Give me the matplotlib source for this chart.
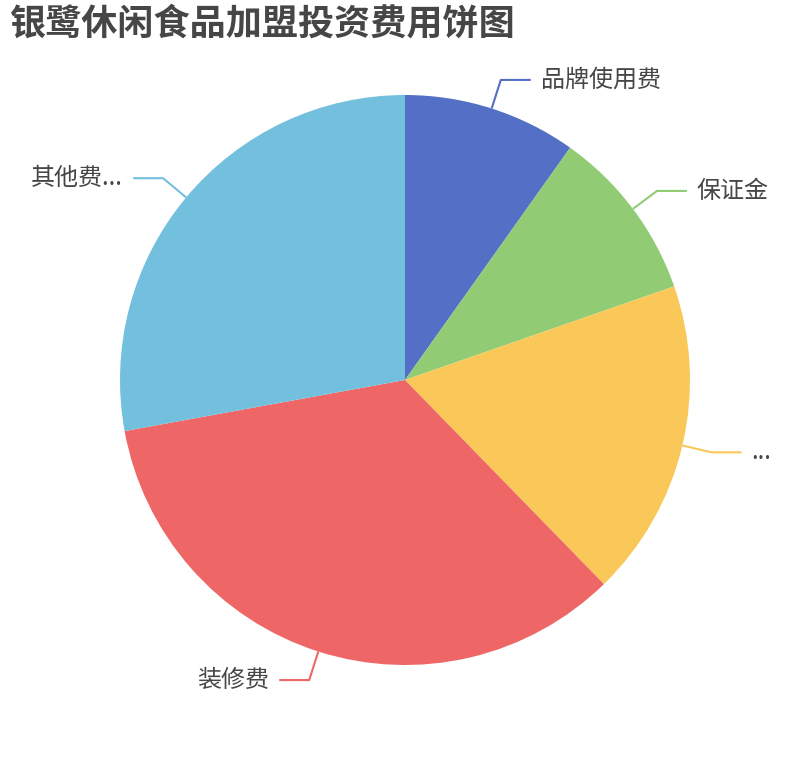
import numpy as np
import matplotlib
matplotlib.use("Agg")
import matplotlib.pyplot as plt

plt.rcParams['font.family'] = ['Noto Sans CJK SC', 'DejaVu Sans']

# 数据
names = ['品牌使用费', '保证金', '...', '装修费', '其他费...']
values = [6, 6, 11, 21, 17]
colors = ['#5470c6', '#91cc75', '#fac858', '#ee6666', '#73c0de']
title = '银鹭休闲食品加盟投资费用饼图'

W, H = 810, 760
fig = plt.figure(figsize=(W / 100, H / 100), dpi=100)
ax = fig.add_axes([0, 0, 1, 1])

cx, cy, r = 405, H - 380, 285
wedges, _ = ax.pie(values, colors=colors, startangle=90, counterclock=False,
                   center=(cx, cy), radius=r, wedgeprops=dict(linewidth=0))

# pie 会重设坐标范围，之后再设
ax.set_xlim(0, W)
ax.set_ylim(0, H)
ax.set_aspect('equal')
ax.axis('off')

# 标签引导线
for w, name, c in zip(wedges, names, colors):
    ang = np.deg2rad((w.theta1 + w.theta2) / 2)
    x0, y0 = cx + r * np.cos(ang), cy + r * np.sin(ang)
    x1, y1 = cx + (r + 30) * np.cos(ang), cy + (r + 30) * np.sin(ang)
    side = 1 if np.cos(ang) >= 0 else -1
    x2 = x1 + side * 30
    ax.plot([x0, x1, x2], [y0, y1, y1], color=c, lw=1.5, solid_capstyle='butt')
    ax.text(x2 + side * 10, y1, name, ha='left' if side > 0 else 'right',
            va='center', fontsize=17.3, color='#464646')

fig.text(10 / W, 1 - 24 / H, title, ha='left', va='center', fontsize=26,
         fontweight='bold', color='#464646')

fig.savefig('out.png', dpi=100)
